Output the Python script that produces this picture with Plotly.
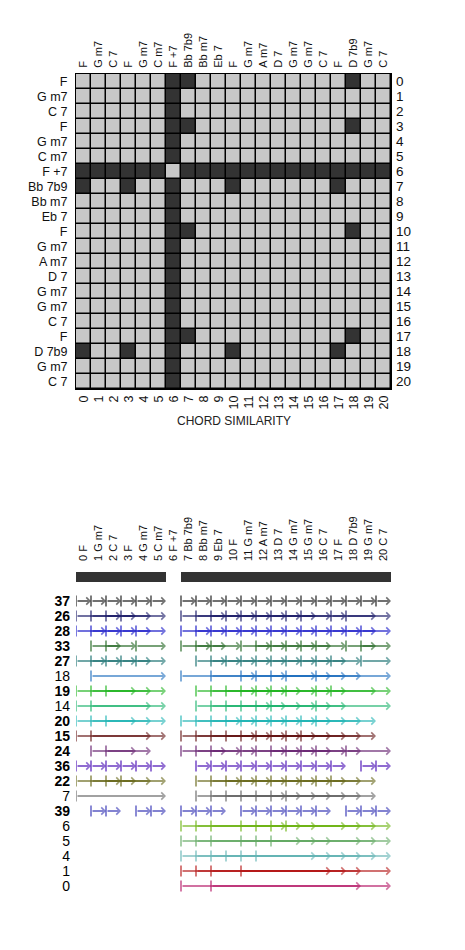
import plotly.graph_objects as go

# ---------------- data ----------------
CHORDS = ["F", "G m7", "C 7", "F", "G m7", "C m7", "F +7", "Bb 7b9", "Bb m7", "Eb 7", "F",
          "G m7", "A m7", "D 7", "G m7", "G m7", "C 7", "F", "D 7b9", "G m7", "C 7"]

# 1 = similar (dark cell), 0 = not similar (light cell)
SIMILARITY = [
    [0,0,0,0,0,0,1,1,0,0,0,0,0,0,0,0,0,0,1,0,0],
    [0,0,0,0,0,0,1,0,0,0,0,0,0,0,0,0,0,0,0,0,0],
    [0,0,0,0,0,0,1,0,0,0,0,0,0,0,0,0,0,0,0,0,0],
    [0,0,0,0,0,0,1,1,0,0,0,0,0,0,0,0,0,0,1,0,0],
    [0,0,0,0,0,0,1,0,0,0,0,0,0,0,0,0,0,0,0,0,0],
    [0,0,0,0,0,0,1,0,0,0,0,0,0,0,0,0,0,0,0,0,0],
    [1,1,1,1,1,1,0,1,1,1,1,1,1,1,1,1,1,1,1,1,1],
    [1,0,0,1,0,0,1,0,0,0,1,0,0,0,0,0,0,1,0,0,0],
    [0,0,0,0,0,0,1,0,0,0,0,0,0,0,0,0,0,0,0,0,0],
    [0,0,0,0,0,0,1,0,0,0,0,0,0,0,0,0,0,0,0,0,0],
    [0,0,0,0,0,0,1,1,0,0,0,0,0,0,0,0,0,0,1,0,0],
    [0,0,0,0,0,0,1,0,0,0,0,0,0,0,0,0,0,0,0,0,0],
    [0,0,0,0,0,0,1,0,0,0,0,0,0,0,0,0,0,0,0,0,0],
    [0,0,0,0,0,0,1,0,0,0,0,0,0,0,0,0,0,0,0,0,0],
    [0,0,0,0,0,0,1,0,0,0,0,0,0,0,0,0,0,0,0,0,0],
    [0,0,0,0,0,0,1,0,0,0,0,0,0,0,0,0,0,0,0,0,0],
    [0,0,0,0,0,0,1,0,0,0,0,0,0,0,0,0,0,0,0,0,0],
    [0,0,0,0,0,0,1,1,0,0,0,0,0,0,0,0,0,0,1,0,0],
    [1,0,0,1,0,0,1,0,0,0,1,0,0,0,0,0,0,1,0,0,0],
    [0,0,0,0,0,0,1,0,0,0,0,0,0,0,0,0,0,0,0,0,0],
    [0,0,0,0,0,0,1,0,0,0,0,0,0,0,0,0,0,0,0,0,0],
]

# chords covered by the segmentation bar (None = not covered)
SEGMENT_BAR = [1, 1, 1, 1, 1, 1, None, 1, 1, 1, 1, 1, 1, 1, 1, 1, 1, 1, 1, 1, 1]

PATTERN_IDS = [37, 26, 28, 33, 27, 18, 19, 14, 20, 15, 24, 36, 22, 7, 39, 6, 5, 4, 1, 0]
PATTERN_BOLD = [True, True, True, True, True, False, True, False, True, True, True, True,
                True, False, True, False, False, False, False, False]
PATTERN_LENGTHS = [1, 3, 2, 2, 2, 5, 4, 5, 4, 5, 3, 1, 3, 6, 1, 7, 8, 9, 10, 12]
PATTERN_STARTS = [
    [0, 1, 2, 3, 4, 5, 7, 8, 9, 10, 11, 12, 13, 14, 15, 16, 17, 18, 19, 20],
    [0, 1, 2, 3, 7, 8, 9, 10, 11, 12, 13, 14, 15, 17, 18],
    [0, 1, 2, 3, 4, 7, 8, 9, 10, 11, 12, 13, 14, 15, 16, 17, 18, 19],
    [1, 2, 4, 7, 8, 9, 11, 12, 13, 14, 15, 16, 18, 19],
    [0, 1, 2, 3, 4, 8, 9, 10, 11, 12, 13, 14, 15, 16, 17, 19],
    [1, 7, 9, 11, 12, 13, 14, 16],
    [0, 1, 2, 8, 9, 10, 11, 12, 13, 14, 16, 17],
    [0, 1, 8, 9, 10, 11, 12, 13, 16],
    [0, 1, 2, 7, 8, 9, 10, 11, 12, 13, 14, 15, 16],
    [0, 1, 7, 8, 9, 10, 11, 12, 13, 14, 15],
    [1, 2, 7, 8, 9, 11, 12, 13, 14, 15, 16, 18],
    [0, 1, 2, 3, 4, 5, 8, 9, 10, 11, 12, 13, 14, 15, 16, 17, 19, 20],
    [0, 1, 2, 3, 8, 9, 10, 11, 12, 13, 14, 15, 16, 17],
    [0, 8, 9, 10, 11, 12, 13, 14],
    [1, 2, 4, 5, 7, 8, 9, 11, 12, 13, 14, 15, 16, 18, 19, 20],
    [7, 8, 9, 11, 12, 13, 14],
    [7, 8, 9, 11, 12, 13],
    [7, 8, 9, 10, 11, 12],
    [7, 8, 9, 11],
    [7, 9],
]
PATTERN_COLORS = [
    (20, 20, 20), (20, 20, 100), (20, 20, 200), (30, 100, 30), (20, 110, 110),
    (30, 110, 190), (30, 180, 30), (30, 180, 110), (30, 180, 180), (100, 20, 20),
    (100, 30, 110), (70, 10, 180), (100, 100, 20), (100, 100, 100), (50, 50, 180),
    (110, 180, 20), (100, 170, 100), (100, 180, 180), (180, 20, 20), (180, 20, 100),
]

TITLE = "CHORD SIMILARITY"

# ---------------- layout geometry ----------------
W, H = 465, 950
def px_x(p): return p / W
def px_y(p): return (H - p) / H

X_DOM = [px_x(76), px_x(391)]
Y_TOP_DOM = [px_y(389), px_y(74)]
Y_BAR_DOM = [px_y(582), px_y(572)]
Y_ROWS_DOM = [px_y(893.5), px_y(593.5)]

FONT = "Liberation Sans, Arial, sans-serif"
NARROW = "Liberation Sans Narrow, Arial Narrow, Liberation Sans, sans-serif"

n = len(CHORDS)
idx = list(range(n))

fig = go.Figure()

# similarity matrix
fig.add_trace(go.Heatmap(
    z=SIMILARITY, x=idx, y=idx, xaxis="x", yaxis="y",
    colorscale=[[0, "#c8c8c8"], [1, "#333333"]], zmin=0, zmax=1,
    showscale=False, xgap=1.5, ygap=1.5, hoverinfo="skip",
))
# helper trace to instantiate the overlaid number axes
fig.add_trace(go.Scatter(x=[0], y=[0], xaxis="x3", yaxis="y5", mode="markers",
                         marker=dict(opacity=0), hoverinfo="skip", showlegend=False))

# segmentation bar
fig.add_trace(go.Heatmap(
    z=[SEGMENT_BAR], x=idx, y=[0], xaxis="x2", yaxis="y3",
    colorscale=[[0, "#333333"], [1, "#333333"]], showscale=False,
    hoverinfo="skip", xgap=0,
))

annotations = []
for k, (pid, L, starts, col) in enumerate(zip(PATTERN_IDS, PATTERN_LENGTHS,
                                               PATTERN_STARTS, PATTERN_COLORS)):
    r, g, b = col
    line_col = f"rgba({r},{g},{b},0.6)"
    tick_col = f"rgba({r},{g},{b},0.75)"
    fig.add_trace(go.Scatter(
        x=[s - 0.5 for s in starts], y=[k] * len(starts), xaxis="x2", yaxis="y4",
        mode="markers", hoverinfo="skip", showlegend=False,
        marker=dict(symbol="line-ns", size=8, line=dict(width=1.5, color=tick_col)),
    ))
    for s in starts:
        annotations.append(dict(
            x=s + L - 0.5, y=k, ax=s - 0.5, ay=k,
            xref="x2", yref="y4", axref="x2", ayref="y4",
            text="", showarrow=True, arrowhead=4, arrowsize=0.7, arrowwidth=2,
            arrowcolor=line_col, standoff=0, startstandoff=0, font=dict(size=1),
        ))

annotations.append(dict(
    x=0.5 * (X_DOM[0] + X_DOM[1]), y=px_y(421), xref="paper", yref="paper",
    text=TITLE, showarrow=False, font=dict(family=FONT, size=12, color="#222"),
    xanchor="center", yanchor="middle",
))

row_labels = [f"<b>{p}</b>" if bold else str(p) for p, bold in zip(PATTERN_IDS, PATTERN_BOLD)]

fig.update_layout(
    width=W, height=H, margin=dict(l=0, r=0, t=0, b=0),
    paper_bgcolor="white", plot_bgcolor="white", showlegend=False, hovermode=False,
    font=dict(family=FONT, color="#111"),
    shapes=[dict(type="rect", xref="x", yref="y", x0=-0.5, x1=n - 0.5, y0=-0.5, y1=n - 0.5,
                 fillcolor="black", line=dict(width=0), layer="below")],
    annotations=annotations,
    xaxis=dict(domain=X_DOM, anchor="y", side="top", range=[-0.5, n - 0.5],
               tickvals=idx, ticktext=CHORDS, tickangle=-90, tickfont=dict(size=11),
               showgrid=False, zeroline=False, showline=True, linecolor="black",
               linewidth=1, mirror=True, ticks="", ticklabelstandoff=3),
    yaxis=dict(domain=Y_TOP_DOM, anchor="x", range=[n - 0.5, -0.5],
               tickvals=idx, ticktext=CHORDS, tickfont=dict(size=12.5),
               showgrid=False, zeroline=False, showline=True, linecolor="black",
               linewidth=1, mirror=True, ticks="", ticklabelstandoff=5),
    xaxis3=dict(domain=X_DOM, anchor="y5", overlaying="x", side="bottom",
                range=[-0.5, n - 0.5], tickvals=idx, ticktext=[str(i) for i in idx],
                tickangle=-90, tickfont=dict(size=12.5), showgrid=False, zeroline=False,
                ticks="", ticklabelstandoff=3),
    yaxis5=dict(domain=Y_TOP_DOM, anchor="x3", overlaying="y", side="right",
                range=[n - 0.5, -0.5], tickvals=idx, ticktext=[str(i) for i in idx],
                tickfont=dict(size=13.5), showgrid=False, zeroline=False, ticks="",
                ticklabelstandoff=4),
    xaxis2=dict(domain=X_DOM, anchor="y3", side="top", range=[-0.5, n - 0.5],
                tickvals=idx, ticktext=[f"{i} {c}" for i, c in zip(idx, CHORDS)],
                tickangle=-90, tickfont=dict(size=11), showgrid=False, zeroline=False,
                showline=False, ticks="", ticklabelstandoff=10),
    yaxis3=dict(domain=Y_BAR_DOM, anchor="x2", range=[-0.5, 0.5], showticklabels=False,
                showgrid=False, zeroline=False, ticks=""),
    yaxis4=dict(domain=Y_ROWS_DOM, anchor="x2", range=[len(PATTERN_IDS) - 0.5, -0.5],
                tickvals=list(range(len(PATTERN_IDS))), ticktext=row_labels,
                tickfont=dict(family=NARROW, size=14, color="#000"),
                showgrid=False, zeroline=False, ticks="", ticklabelstandoff=5),
)

fig.write_html("out.html")
